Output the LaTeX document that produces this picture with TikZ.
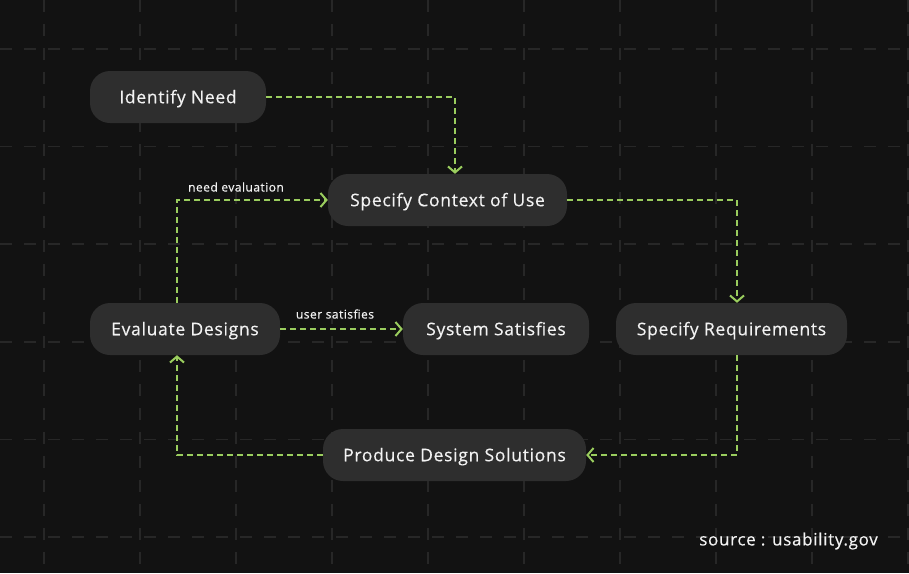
\documentclass[tikz,border=0pt]{standalone}
\usepackage{fontspec}
\setmainfont{Open Sans}[LetterSpace=4,FakeBold=0.4]
\usetikzlibrary{arrows.meta}
\definecolor{bgc}{HTML}{121212}
\definecolor{gridc}{HTML}{272727}
\definecolor{boxc}{HTML}{2E2E2E}
\definecolor{greenc}{HTML}{9ACD5E}
\definecolor{txtc}{HTML}{F2F2F2}
\tikzset{
  stepbox/.style={fill=boxc, rounded corners=20pt, minimum height=52pt, inner sep=0pt, text=txtc, text height=12.5pt, text depth=0pt, font=\fontsize{17.5}{20}\selectfont},
  conn/.style={draw=greenc, line width=2pt, dash pattern=on 6pt off 4pt, -{Straight Barb[length=6pt,width=14pt,line width=2pt]}},
  gridline/.style={draw=gridc, line width=1.5pt, dash pattern=on 12pt off 12pt},
  lbl/.style={text=txtc, font=\fontsize{12}{14}\selectfont, inner sep=0pt}
}
\begin{document}
\begin{tikzpicture}[x=1pt,y=-1pt]
\fill[bgc] (0,0) rectangle (909,573);
\useasboundingbox (0,0) rectangle (909,573);
% grid
\foreach \gx in {44,140,...,908} {\draw[gridline] (\gx,0) -- (\gx,573);}
\foreach \gy in {49,146.6,244.2,341.8,439.4,537} {\draw[gridline] (0,\gy) -- (909,\gy);}
% nodes
\node[stepbox, minimum width=176pt] (idn) at (178,97) {Identify Need};
\node[stepbox, minimum width=239pt] (ctx) at (447.5,200) {Specify Context of Use};
\node[stepbox, minimum width=190pt] (evd) at (185,329) {Evaluate Designs};
\node[stepbox, minimum width=186pt] (sys) at (496,329) {System Satisfies};
\node[stepbox, minimum width=231pt] (req) at (731.5,329) {Specify Requirements};
\node[stepbox, minimum width=263pt] (pds) at (454.5,455) {Produce Design Solutions};
% connectors
\draw[conn] (idn.east) -| ([xshift=7.5pt]ctx.north);
\draw[conn] (ctx.east) -| ([xshift=5.5pt]req.north);
\draw[conn] ([xshift=5.5pt]req.south) |- (pds.east);
\draw[conn] (pds.west) -| ([xshift=-8pt]evd.south);
\draw[conn] ([xshift=-8pt]evd.north) |- (ctx.west);
\draw[conn] (evd.east) -- (sys.west);
% labels
\node[lbl] (lne) at (236,187) {need evaluation};
\node[lbl] (lus) at (335,314) {user satisfies};
\node[text=txtc, font=\fontsize{17}{20}\selectfont, inner sep=0pt, anchor=east] (src) at (878,541) {source : usability.gov};
\end{tikzpicture}
\end{document}
